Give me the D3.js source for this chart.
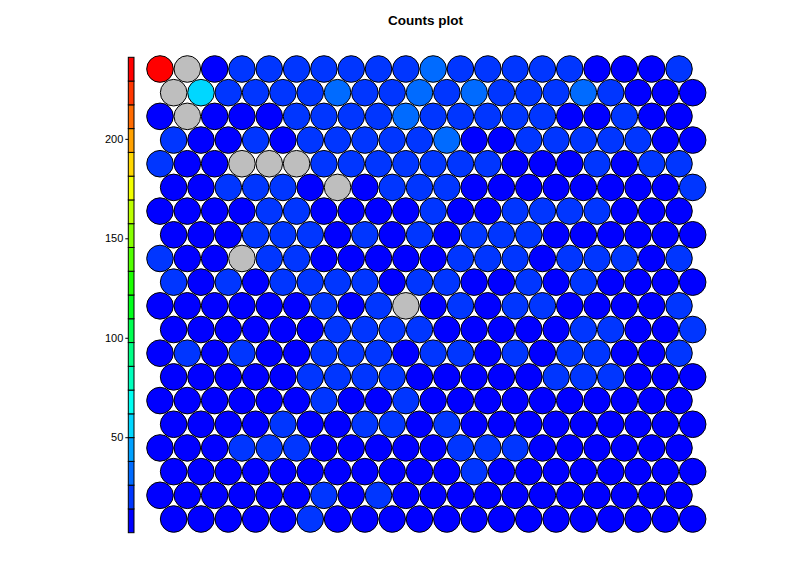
<!DOCTYPE html>
<html>
<head>
<meta charset="utf-8">
<script src="https://cdn.jsdelivr.net/npm/d3@7"></script>
<style>
  html, body { margin: 0; padding: 0; background: #fff; }
  svg { display: block; font-family: "Liberation Sans", Arial, sans-serif; }
</style>
</head>
<body>
<svg id="chart" width="796" height="562"></svg>
<script>
// ---- data: counts per SOM unit, rows listed top to bottom, null = empty unit (grey)
const title = "Counts plot";
const row0  = [241, null, 9, 18, 17, 19, 16, 18, 20, 17, 29, 18, 17, 19, 16, 18, 10, 8, 11, 17];
const row1  = [null, 55, 18, 17, 19, 16, 30, 18, 17, 28, 19, 31, 17, 18, 16, 29, 20, 9, 10, 8];
const row2  = [10, null, 9, 11, 8, 17, 19, 18, 16, 30, 18, 17, 19, 16, 18, 9, 11, 17, 8, 10];
const row3  = [18, 10, 9, 17, 11, 16, 19, 18, 17, 16, 29, 10, 8, 18, 17, 19, 16, 18, 9, 11];
const row4  = [17, 9, 11, null, null, null, 18, 16, 19, 17, 18, 16, 17, 10, 8, 9, 19, 11, 17, 18];
const row5  = [10, 9, 17, 18, 16, 11, null, 8, 18, 17, 16, 9, 10, 11, 8, 9, 10, 11, 9, 18];
const row6  = [9, 11, 8, 10, 17, 18, 9, 10, 11, 8, 18, 9, 10, 17, 16, 19, 18, 11, 9, 10];
const row7  = [9, 10, 11, 17, 18, 16, 8, 19, 10, 17, 9, 18, 16, 17, 11, 10, 9, 8, 11, 10];
const row8  = [17, 10, 9, null, 18, 16, 11, 8, 10, 9, 11, 18, 17, 19, 10, 16, 18, 17, 9, 18];
const row9  = [18, 9, 17, 10, 16, 19, 18, 17, 11, 16, 18, 9, 10, 17, 11, 18, 8, 10, 9, 11];
const row10 = [9, 10, 8, 11, 9, 10, 17, 11, 18, null, 10, 17, 9, 18, 16, 11, 10, 8, 9, 17];
const row11 = [10, 8, 9, 11, 10, 9, 17, 18, 16, 19, 9, 10, 11, 8, 10, 18, 17, 9, 11, 16];
const row12 = [9, 17, 10, 18, 11, 8, 16, 19, 17, 10, 18, 17, 9, 16, 11, 18, 17, 10, 9, 18];
const row13 = [10, 9, 11, 8, 10, 17, 18, 16, 17, 9, 10, 11, 9, 8, 18, 17, 19, 10, 9, 11];
const row14 = [9, 11, 10, 8, 9, 10, 17, 11, 9, 18, 10, 9, 11, 8, 10, 9, 11, 10, 8, 9];
const row15 = [8, 10, 9, 11, 17, 9, 10, 18, 17, 11, 16, 9, 10, 8, 11, 9, 10, 8, 9, 10];
const row16 = [10, 9, 11, 17, 18, 16, 9, 10, 8, 11, 9, 18, 17, 16, 10, 9, 11, 8, 10, 9];
const row17 = [9, 2, 10, 11, 9, 10, 8, 9, 11, 10, 9, 17, 10, 8, 9, 11, 10, 9, 8, 10];
const row18 = [8, 10, 9, 11, 8, 9, 17, 10, 18, 9, 10, 8, 9, 11, 10, 8, 9, 10, 11, 8];
const row19 = [9, 8, 10, 9, 11, 17, 10, 8, 9, 10, 8, 9, 11, 10, 8, 9, 10, 9, 8, 10];
const countRows = [row0,row1,row2,row3,row4,row5,row6,row7,row8,row9,
                   row10,row11,row12,row13,row14,row15,row16,row17,row18,row19];
// colour palette (blue -> red, 20 steps)
const palette = ["#0000FF","#0036FF","#006BFF","#00A1FF","#00D7FF","#00FFF2","#00FFBC","#00FF86",
                 "#00FF51","#00FF1B","#1BFF00","#51FF00","#86FF00","#BCFF00","#F2FF00","#FFD700",
                 "#FFA100","#FF6B00","#FF3600","#FF0000"];
const legendTicks = [50, 100, 150, 200];
const emptyColor = "#BEBEBE";

// ---- layout
const svg = d3.select("#chart");
const nRows = countRows.length, nCols = row0.length;
const cells = [];
countRows.forEach((r, i) => r.forEach((v, j) => cells.push({row: i, col: j, value: v})));
const allVals = cells.map(d => d.value).filter(v => v != null);
const extent = d3.extent(allVals);

const x = d3.scaleLinear().domain([0, nCols - 1]).range([160, 679]);
const y = d3.scaleLinear().domain([0, nRows - 1]).range([69, 519]);
const color = d3.scaleQuantize().domain(extent).range(palette);
const radius = 13.3;

svg.append("text")
  .attr("x", 425.5).attr("y", 25)
  .attr("text-anchor", "middle")
  .attr("font-size", 13.5).attr("font-weight", "bold")
  .attr("fill", "#000")
  .text(title);

svg.append("g").selectAll("circle")
  .data(cells)
  .join("circle")
  .attr("cx", d => x(d.col + (d.row % 2 === 1 ? 0.5 : 0)))
  .attr("cy", d => y(d.row))
  .attr("r", radius)
  .attr("fill", d => d.value == null ? emptyColor : color(d.value))
  .attr("stroke", "#000")
  .attr("stroke-width", 1);

// ---- colour bar
const barTop = 57.3, barBottom = 532.7, barX = 128.3, barW = 5.7;
const ly = d3.scaleLinear().domain(extent).range([barBottom, barTop]);
const step = (extent[1] - extent[0]) / palette.length;
svg.append("g").selectAll("rect")
  .data(palette)
  .join("rect")
  .attr("x", barX)
  .attr("y", (c, i) => ly(extent[0] + (i + 1) * step))
  .attr("width", barW)
  .attr("height", (c, i) => ly(extent[0] + i * step) - ly(extent[0] + (i + 1) * step))
  .attr("fill", c => c)
  .attr("stroke", "#000")
  .attr("stroke-width", 1);

const axis = d3.axisLeft(ly).tickValues(legendTicks).tickSize(3).tickPadding(2).tickFormat(d3.format("d"));
const ag = svg.append("g").attr("transform", `translate(${barX},0)`).call(axis);
ag.select(".domain").remove();
ag.selectAll("text").attr("font-size", 11).attr("fill", "#000").attr("font-family", "Liberation Sans, Arial, sans-serif");
ag.selectAll("line").attr("stroke", "#000");
</script>
</body>
</html>
